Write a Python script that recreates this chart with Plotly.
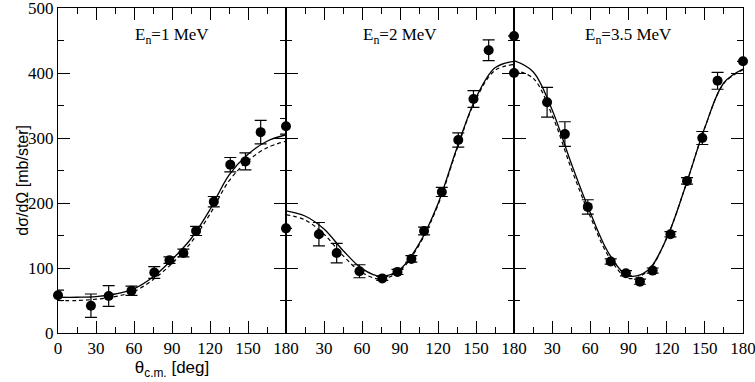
import plotly.graph_objects as go

# measured angles (deg, c.m.)
angles_exp = [0, 26, 40, 58, 76, 88, 99, 109, 123, 136, 148, 160, 180]

# experimental cross sections [mb/ster] and errors
exp_1mev = [58, 42, 57, 65, 93, 112, 123, 157, 202, 259, 264, 309, 318]
err_1mev = [8, 18, 16, 7, 9, 5, 6, 7, 8, 11, 13, 18, 12]
exp_2mev = [161, 152, 123, 95, 84, 94, 114, 157, 217, 297, 360, 435, 457]
err_2mev = [0, 18, 15, 10, 3, 4, 5, 6, 7, 11, 13, 16, 0]
exp_35mev = [400, 355, 306, 194, 110, 92, 79, 96, 152, 234, 300, 388, 418]
err_35mev = [0, 23, 19, 11, 4, 4, 4, 4, 4, 5, 10, 13, 0]

# theory curves
angles_th = [0, 15, 30, 45, 60, 75, 90, 105, 120, 135, 150, 165, 180]
solid_1mev = [55, 55, 56, 60, 68, 86, 113, 145, 190, 243, 275, 295, 305]
dash_1mev = [50, 50, 52, 56, 64, 82, 107, 139, 183, 234, 265, 285, 295]
solid_2mev = [188, 180, 160, 127, 99, 87, 98, 137, 199, 285, 362, 408, 418]
dash_2mev = [182, 174, 152, 119, 93, 83, 96, 135, 197, 283, 360, 404, 413]
solid_35mev = [419, 402, 343, 261, 185, 121, 88, 96, 146, 227, 316, 385, 406]
dash_35mev = [404, 392, 335, 253, 179, 116, 84, 95, 146, 227, 316, 384, 405]

labels = ["E<sub>n</sub>=1 MeV", "E<sub>n</sub>=2 MeV", "E<sub>n</sub>=3.5 MeV"]

panels = [
    (exp_1mev, err_1mev, solid_1mev, dash_1mev),
    (exp_2mev, err_2mev, solid_2mev, dash_2mev),
    (exp_35mev, err_35mev, solid_35mev, dash_35mev),
]

serif = "Liberation Serif, Times New Roman, serif"
sans = "Liberation Sans, Arial, sans-serif"

fig = go.Figure()

W = 685.0
edges = [0, 228 / W, 456 / W, 1.0]

for i, (ex, er, so, da) in enumerate(panels):
    xa = "x" if i == 0 else "x%d" % (i + 1)
    ya = "y" if i == 0 else "y%d" % (i + 1)
    fig.add_trace(go.Scatter(x=angles_th, y=so, mode="lines", line_shape="spline",
                             line=dict(color="black", width=1.3), xaxis=xa, yaxis=ya))
    fig.add_trace(go.Scatter(x=angles_th, y=da, mode="lines", line_shape="spline",
                             line=dict(color="black", width=1.2, dash="4px,3px"),
                             xaxis=xa, yaxis=ya))
    fig.add_trace(go.Scatter(x=angles_exp, y=ex, mode="markers", cliponaxis=False,
                             marker=dict(color="black", size=10),
                             error_y=dict(type="data", array=er, color="black",
                                          thickness=1.2, width=6),
                             xaxis=xa, yaxis=ya))

    ticktext = [str(v) for v in range(0, 181, 30)]
    if i > 0:
        ticktext[0] = ""
    xkey = "xaxis" if i == 0 else "xaxis%d" % (i + 1)
    ykey = "yaxis" if i == 0 else "yaxis%d" % (i + 1)
    fig.layout[xkey] = dict(
        domain=[edges[i], edges[i + 1]], range=[0, 180], anchor=ya,
        tickmode="array", tickvals=list(range(0, 181, 30)), ticktext=ticktext,
        ticks="inside", ticklen=12, tickwidth=1, tickcolor="black",
        minor=dict(dtick=15, tick0=0, ticks="inside", ticklen=6, tickwidth=1,
                   tickcolor="black", showgrid=False),
        showline=True, linecolor="black", linewidth=1, mirror="ticks",
        showgrid=False, zeroline=False, automargin=False,
        ticklabeloverflow="allow",
        tickfont=dict(family=serif, size=17, color="black"),
    )
    fig.layout[ykey] = dict(
        range=[0, 500], anchor=xa, dtick=100, tick0=0,
        ticks="inside", ticklen=12, tickwidth=1, tickcolor="black",
        minor=dict(dtick=50, ticks="inside", ticklen=6, tickwidth=1,
                   tickcolor="black", showgrid=False),
        showline=True, linecolor="black", linewidth=1, mirror="ticks",
        showgrid=False, zeroline=False, showticklabels=(i == 0), automargin=False,
        ticklabeloverflow="allow",
        tickfont=dict(family=serif, size=17, color="black"),
    )
    fig.add_annotation(text=labels[i], xref=xa, yref="paper", x=90, y=0.915,
                       showarrow=False, yanchor="middle",
                       font=dict(family=serif, size=17, color="black"))

# y-axis title placed by hand
fig.add_annotation(text="dσ/dΩ [mb/ster]", xref="paper", yref="paper",
                   x=0, xshift=-46, y=0.47, textangle=-90, showarrow=False,
                   font=dict(family=sans, size=16, color="black"))

fig.update_layout(
    width=755, height=382,
    margin=dict(l=58, r=12, t=8, b=49),
    paper_bgcolor="white", plot_bgcolor="white",
    showlegend=False,
)
fig.layout.xaxis.title = dict(text="θ<sub>c.m.</sub> [deg]", standoff=0,
                              font=dict(family=sans, size=17, color="black"))

fig.write_html("out.html", config={"displayModeBar": False},
               post_script="document.body.style.margin='0';")
